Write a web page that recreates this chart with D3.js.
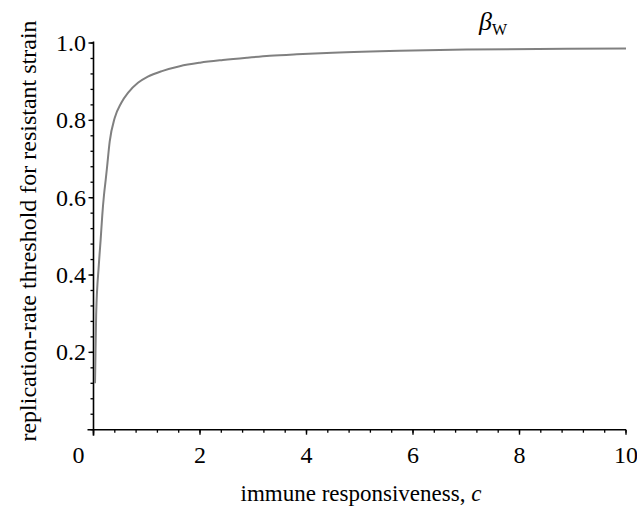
<!DOCTYPE html>
<html><head><meta charset="utf-8">
<script src="https://cdn.jsdelivr.net/npm/d3@7"></script>
<style>body{margin:0;background:#fff}svg{display:block}
text{font-family:'Liberation Serif','DejaVu Serif','Times New Roman',serif}</style>
</head><body>
<script>
const cValues = [0.028, 0.03, 0.05, 0.10, 0.135, 0.165, 0.197, 0.229, 0.253, 0.304, 0.398, 0.52, 0.647, 0.835, 1.02, 1.30, 1.62, 2.0, 2.43, 2.88, 3.31, 3.82, 4.49, 5.75, 7.0, 8.88, 10.0];
const betaValues = [0.12, 0.134, 0.297, 0.426, 0.493, 0.555, 0.607, 0.646, 0.677, 0.745, 0.806, 0.845, 0.871, 0.897, 0.913, 0.928, 0.940, 0.949, 0.956, 0.962, 0.967, 0.971, 0.975, 0.980, 0.983, 0.985, 0.986];
const xTicks = [0, 2, 4, 6, 8, 10];
const yTicks = [0.2, 0.4, 0.6, 0.8, 1.0];
const xLabel = "immune responsiveness, ";
const xLabelVar = "c";
const yLabel = "replication-rate threshold for resistant strain";
const seriesName = "β";
const seriesSub = "W";

const W = 637, H = 510;
const svg = d3.select("body").append("svg").attr("width", W).attr("height", H);
const x = d3.scaleLinear().domain([0, 10]).range([93.5, 626]);
const y = d3.scaleLinear().domain([0, 1]).range([429.7, 43]);

const g = svg.append("g").attr("fill", "#000");

// minor ticks
const xMinor = d3.range(0, 10.0001, 0.4);
const yMinor = d3.range(0, 1.0001, 0.04);
g.selectAll(".xm").data(xMinor).join("line")
  .attr("x1", d => x(d)).attr("x2", d => x(d))
  .attr("y1", y(0)).attr("y2", y(0) + 3)
  .attr("stroke", "#000").attr("stroke-width", 1.3);
g.selectAll(".ym").data(yMinor).join("line")
  .attr("x1", x(0)).attr("x2", x(0) - 3)
  .attr("y1", d => y(d)).attr("y2", d => y(d))
  .attr("stroke", "#000").attr("stroke-width", 1.3);
// major ticks
g.selectAll(".xM").data(xTicks).join("line")
  .attr("x1", d => x(d)).attr("x2", d => x(d))
  .attr("y1", y(0)).attr("y2", y(0) + 5)
  .attr("stroke", "#000").attr("stroke-width", 1.4);
g.selectAll(".yM").data(yTicks).join("line")
  .attr("x1", x(0)).attr("x2", x(0) - 5)
  .attr("y1", d => y(d)).attr("y2", d => y(d))
  .attr("stroke", "#000").attr("stroke-width", 1.4);
// axis lines
g.append("line").attr("x1", x(0) - 6).attr("x2", x(10)).attr("y1", y(0)).attr("y2", y(0))
  .attr("stroke", "#000").attr("stroke-width", 1.6);
g.append("line").attr("x1", x(0)).attr("x2", x(0)).attr("y1", y(0) + 6).attr("y2", y(1) - 1.5)
  .attr("stroke", "#000").attr("stroke-width", 1.6);

// tick labels
g.selectAll(".xl").data(xTicks).join("text")
  .attr("x", d => d === 0 ? x(d) - 15 : x(d)).attr("y", 463)
  .attr("text-anchor", "middle").attr("font-size", 24).text(d => d);
g.selectAll(".yl").data(yTicks).join("text")
  .attr("x", 86).attr("y", d => y(d) + 8)
  .attr("text-anchor", "end").attr("font-size", 24).text(d => d.toFixed(1));

// axis titles
const xt = g.append("text").attr("x", 361).attr("y", 501).attr("text-anchor", "middle").attr("font-size", 23);
xt.append("tspan").text(xLabel);
xt.append("tspan").attr("font-style", "italic").text(xLabelVar);
g.append("text").attr("transform", "translate(36,231) rotate(-90)")
  .attr("text-anchor", "middle").attr("font-size", 24).text(yLabel);

// curve
const pts = cValues.map((c, i) => [c, betaValues[i]]);
svg.append("path").datum(pts)
  .attr("fill", "none").attr("stroke", "#808080").attr("stroke-width", 2)
  .attr("d", d3.line().x(d => x(d[0])).y(d => y(d[1])).curve(d3.curveMonotoneX));

// series label
const bl = g.append("text").attr("x", 479).attr("y", 30).attr("font-size", 26);
bl.append("tspan").attr("font-style", "italic").text(seriesName);
bl.append("tspan").attr("font-size", 16).attr("dy", 5).text(seriesSub);
</script>
</body></html>
